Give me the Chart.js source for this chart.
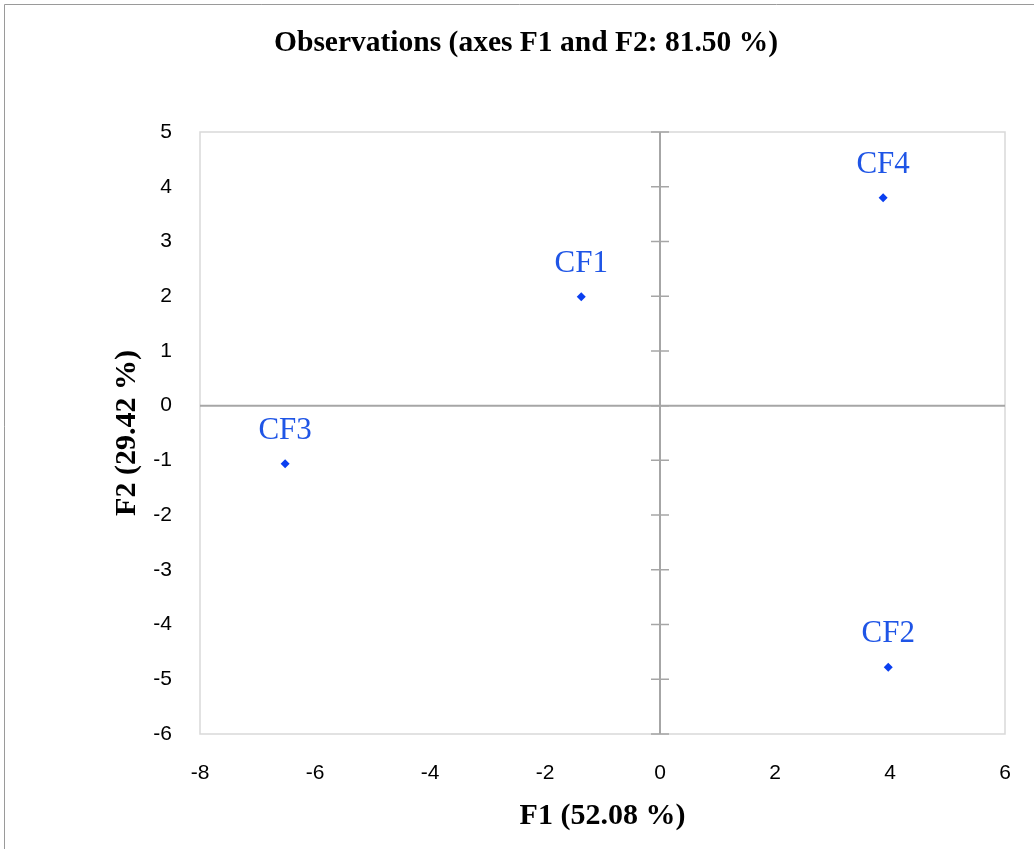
<!DOCTYPE html>
<html>
<head>
<meta charset="utf-8">
<script src="https://cdn.jsdelivr.net/npm/chart.js@4.4.0/dist/chart.umd.min.js"></script>
<style>
  html, body { margin: 0; padding: 0; background: #fff; }
  #wrap { width: 1034px; height: 849px; position: relative; }
</style>
</head>
<body>
<div id="wrap"><canvas id="pcaChart" width="1034" height="849"></canvas></div>
<script>
// Observations on F1 / F2
const obsLabels = ["CF1", "CF2", "CF3", "CF4"];
const f1Values = [-1.37, 3.97, -6.52, 3.88];
const f2Values = [1.99, -4.78, -1.06, 3.80];

const xTicks = [-8, -6, -4, -2, 0, 2, 4, 6];
const yTicks = [-6, -5, -4, -3, -2, -1, 0, 1, 2, 3, 4, 5];

const chartTitle = "Observations (axes F1 and F2: 81.50 %)";

const points = obsLabels.map((lbl, i) => ({ x: f1Values[i], y: f2Values[i], label: lbl }));

/* ============================
   PLUGIN: frame, zero axes, labels
============================ */
const pcaDecor = {
  id: "pcaDecor",
  beforeDraw(chart) {
    const ctx = chart.ctx;
    ctx.save();
    // outer picture border (top and left only)
    ctx.strokeStyle = "#9a9a9a";
    ctx.lineWidth = 1;
    ctx.beginPath();
    ctx.moveTo(4.5, chart.height);
    ctx.lineTo(4.5, 4.5);
    ctx.lineTo(chart.width, 4.5);
    ctx.stroke();

    // title
    ctx.fillStyle = "#000";
    ctx.font = "bold 29.5px 'Liberation Serif', 'Times New Roman', serif";
    ctx.textAlign = "center";
    ctx.textBaseline = "middle";
    ctx.fillText(chartTitle, 526, 43);
    ctx.restore();
  },
  beforeDatasetsDraw(chart) {
    const { ctx, chartArea: a, scales } = chart;
    ctx.save();
    // plot area frame
    ctx.strokeStyle = "#d9d9d9";
    ctx.lineWidth = 1.5;
    ctx.strokeRect(a.left, a.top, a.right - a.left, a.bottom - a.top);

    // zero lines
    const x0 = scales.x.getPixelForValue(0);
    const y0 = scales.y.getPixelForValue(0);
    ctx.strokeStyle = "#a6a6a6";
    ctx.lineWidth = 2;
    ctx.beginPath();
    ctx.moveTo(a.left, y0);
    ctx.lineTo(a.right, y0);
    ctx.moveTo(x0, a.top);
    ctx.lineTo(x0, a.bottom);
    ctx.stroke();

    // tick marks on the vertical zero line
    ctx.lineWidth = 1.5;
    ctx.beginPath();
    yTicks.forEach((v) => {
      const py = scales.y.getPixelForValue(v);
      ctx.moveTo(x0 - 9, py);
      ctx.lineTo(x0 + 9, py);
    });
    ctx.stroke();
    ctx.restore();
  },
  afterDatasetsDraw(chart) {
    const ctx = chart.ctx;
    const meta = chart.getDatasetMeta(0);
    ctx.save();
    ctx.fillStyle = "#1f55e6";
    ctx.font = "31px 'Liberation Serif', 'Times New Roman', serif";
    ctx.textAlign = "center";
    ctx.textBaseline = "middle";
    meta.data.forEach((el, i) => {
      ctx.fillText(points[i].label, el.x, el.y - 33);
    });
    ctx.restore();
  },
};

new Chart(document.getElementById("pcaChart"), {
  type: "scatter",
  data: {
    datasets: [
      {
        data: points,
        pointStyle: "rectRot",
        pointRadius: 4.5,
        pointHoverRadius: 4.5,
        backgroundColor: "#0a3ff0",
        borderColor: "#0a3ff0",
        borderWidth: 0,
      },
    ],
  },
  options: {
    responsive: false,
    animation: false,
    layout: { padding: { top: 132, right: 29, bottom: 0, left: 0 } },
    plugins: {
      legend: { display: false },
      tooltip: { enabled: false },
      title: { display: false },
    },
    scales: {
      x: {
        type: "linear",
        min: -8,
        max: 6,
        afterBuildTicks: (s) => { s.ticks = xTicks.map((v) => ({ value: v })); },
        afterFit: (s) => { s.height = 115; s.paddingLeft = 0; s.paddingRight = 0; },
        grid: { display: false, drawTicks: false },
        border: { display: false },
        ticks: {
          color: "#000",
          padding: 27,
          font: { family: "'Liberation Sans', Arial, sans-serif", size: 21 },
        },
        title: {
          display: true,
          text: "F1 (52.08 %)",
          color: "#000",
          font: { family: "'Liberation Serif', 'Times New Roman', serif", size: 30, weight: "bold" },
          padding: { top: 0, bottom: 15 },
        },
      },
      y: {
        type: "linear",
        min: -6,
        max: 5,
        afterBuildTicks: (s) => { s.ticks = yTicks.map((v) => ({ value: v })); },
        afterFit: (s) => { s.width = 200; s.paddingTop = 0; s.paddingBottom = 0; },
        grid: { display: false, drawTicks: false },
        border: { display: false },
        ticks: {
          color: "#000",
          padding: 28,
          font: { family: "'Liberation Sans', Arial, sans-serif", size: 21 },
        },
        title: {
          display: true,
          text: "F2 (29.42 %)",
          color: "#000",
          font: { family: "'Liberation Serif', 'Times New Roman', serif", size: 30, weight: "bold" },
          padding: { top: 109, bottom: 0 },
        },
      },
    },
  },
  plugins: [pcaDecor],
});
</script>
</body>
</html>
